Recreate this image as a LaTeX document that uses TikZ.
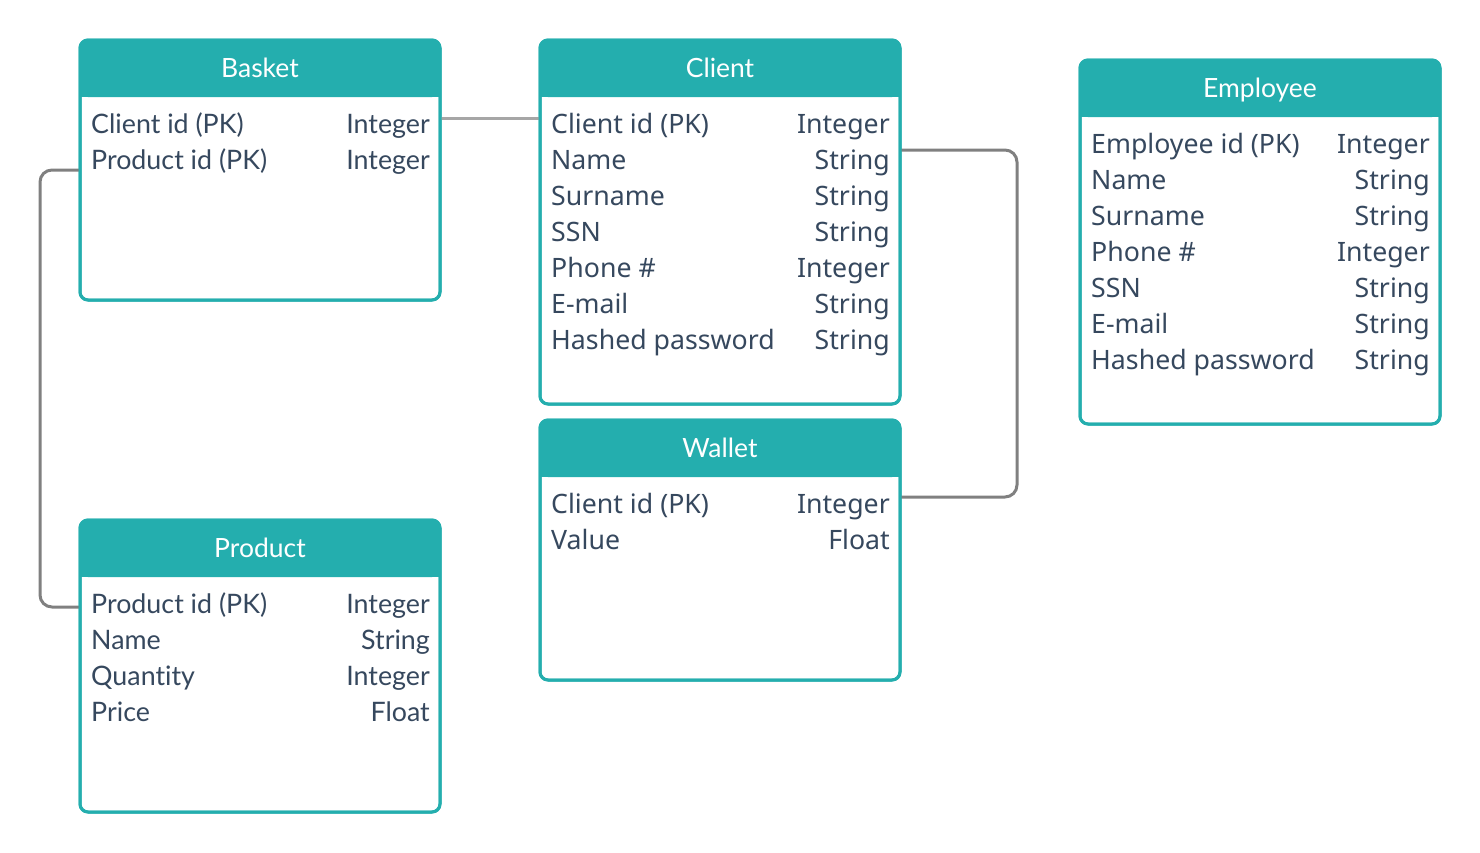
\documentclass[tikz,border=0pt]{standalone}
\usepackage{fontspec}
\setmainfont{Lato}[Ligatures=NoCommon]
\newfontfamily\notosans{Noto Sans}
\usetikzlibrary{positioning}
\definecolor{tealhd}{HTML}{24AEAE}
\definecolor{rowtxt}{HTML}{36485E}
\definecolor{linkgray}{HTML}{808080}
\definecolor{linklight}{HTML}{A6A6A6}
\tikzstyle{tbl}=[draw=tealhd, line width=3pt, rounded corners=8pt, fill=white, inner sep=0, outer sep=0, anchor=north west, minimum width=360pt]
\tikzstyle{title}=[text=white, font=\fontsize{26.5}{31}\selectfont, anchor=base, inner sep=0]
\tikzstyle{fld}=[text=rowtxt, font=\fontsize{26.8}{32}\selectfont, anchor=base west, inner sep=0]
\tikzstyle{typ}=[fld, anchor=base east]
\tikzstyle{fldn}=[fld, font=\notosans\fontsize{26.7}{32}\selectfont]
\tikzstyle{typn}=[fldn, anchor=base east]
\tikzstyle{link}=[line width=3pt, linkgray, rounded corners=12pt]
\newcommand{\header}[2]{%
  \fill[tealhd,rounded corners=8pt] (#1.north west) rectangle ([yshift=-57pt]#1.north east);
  \fill[tealhd] ([yshift=-20pt]#1.north west) rectangle ([yshift=-57pt]#1.north east);
  \node[title] (#1-title) at ([yshift=-37pt]#1.north) {#2};}

\begin{document}
\begin{tikzpicture}[x=1pt,y=-1pt]
\useasboundingbox (0,0) rectangle (1480,852);

% boxes (drawn empty first, so that links can be named)
\node[tbl, minimum height=260pt] (basket) at (80,40) {};
\node[tbl, minimum height=364pt] (client) at (540,40) {};
\node[tbl, minimum height=364pt] (employee) at (1080,60) {};
\node[tbl, minimum height=260pt] (wallet) at (540,420) {};
\node[tbl, minimum height=292pt] (product) at (80,520) {};

% links
\coordinate (bc1) at ([yshift=-78pt]basket.north east);
\coordinate (bc2) at ([yshift=-78pt]client.north west);
\coordinate (cw1) at ([yshift=-110pt]client.north east);
\coordinate (cw2) at ([yshift=-77pt]wallet.north east);
\coordinate (bp1) at ([yshift=-130pt]basket.north west);
\coordinate (bp2) at ([yshift=-87pt]product.north west);
\draw[link, linklight] (bc1) -- (bc2);
\draw[link] (cw1) -- ++(117,0) |- (cw2);
\draw[link] (bp1) -- ++(-40,0) |- (bp2);

\foreach \b in {basket,client,employee,wallet,product}
  \draw[tealhd, line width=3pt, rounded corners=8pt] (\b.north west) rectangle (\b.south east);

\header{basket}{Basket}
\header{client}{Client}
\header{employee}{Employee}
\header{wallet}{Wallet}
\header{product}{Product}

% fields
\foreach \f/\t [count=\i] in {Client id (PK)/Integer, Product id (PK)/Integer}{
  \node[fld] (basket-\i) at ([xshift=11pt,yshift={-93pt-36pt*(\i-1)}]basket.north west) {\f};
  \node[typ] (basket-\i t) at ([xshift=-10pt,yshift={-93pt-36pt*(\i-1)}]basket.north east) {\t};
}
\foreach \f/\t [count=\i] in {Client id (PK)/Integer, Name/String, Surname/String, SSN/String,
    Phone \#/Integer, E-mail/String, Hashed password/String}{
  \node[fldn] (client-\i) at ([xshift=11pt,yshift={-93pt-36pt*(\i-1)}]client.north west) {\f};
  \node[typn] (client-\i t) at ([xshift=-10pt,yshift={-93pt-36pt*(\i-1)}]client.north east) {\t};
}
\foreach \f/\t [count=\i] in {Employee id (PK)/Integer, Name/String, Surname/String, Phone \#/Integer,
    SSN/String, E-mail/String, Hashed password/String}{
  \node[fldn] (employee-\i) at ([xshift=11pt,yshift={-93pt-36pt*(\i-1)}]employee.north west) {\f};
  \node[typn] (employee-\i t) at ([xshift=-10pt,yshift={-93pt-36pt*(\i-1)}]employee.north east) {\t};
}
\foreach \f/\t [count=\i] in {Client id (PK)/Integer, Value/Float}{
  \node[fldn] (wallet-\i) at ([xshift=11pt,yshift={-93pt-36pt*(\i-1)}]wallet.north west) {\f};
  \node[typn] (wallet-\i t) at ([xshift=-10pt,yshift={-93pt-36pt*(\i-1)}]wallet.north east) {\t};
}
\foreach \f/\t [count=\i] in {Product id (PK)/Integer, Name/String, Quantity/Integer, Price/Float}{
  \node[fld] (product-\i) at ([xshift=11pt,yshift={-93pt-36pt*(\i-1)}]product.north west) {\f};
  \node[typ] (product-\i t) at ([xshift=-10pt,yshift={-93pt-36pt*(\i-1)}]product.north east) {\t};
}
\end{tikzpicture}
\end{document}
